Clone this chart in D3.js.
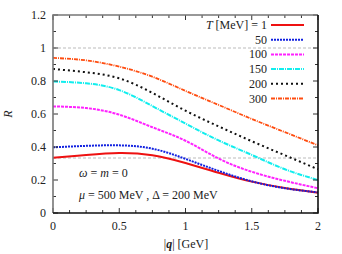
<!DOCTYPE html>
<html>
<head>
<meta charset="utf-8">
<script src="https://cdn.jsdelivr.net/npm/d3@7"></script>
<style>
body { margin: 0; background: #fff; }
svg text { font-family: 'Liberation Serif', 'Times New Roman', serif; fill: #222; }
</style>
</head>
<body>
<div id="chart"></div>
<script>
// data
var qValues = [0, 0.25, 0.5, 0.75, 1, 1.25, 1.5, 1.75, 2];
var temps = ["1", "50", "100", "150", "200", "300"];
var r1   = [0.335, 0.352, 0.364, 0.350, 0.303, 0.244, 0.190, 0.152, 0.123];
var r50  = [0.398, 0.407, 0.410, 0.390, 0.328, 0.255, 0.192, 0.150, 0.125];
var r100 = [0.646, 0.636, 0.596, 0.520, 0.438, 0.330, 0.250, 0.195, 0.150];
var r150 = [0.797, 0.786, 0.745, 0.648, 0.542, 0.440, 0.352, 0.265, 0.200];
var r200 = [0.873, 0.853, 0.816, 0.728, 0.620, 0.525, 0.435, 0.350, 0.265];
var r300 = [0.940, 0.925, 0.887, 0.826, 0.740, 0.655, 0.570, 0.490, 0.410];
var refLines = [1, 1 / 3];
var xTicks = [0, 0.5, 1, 1.5, 2];
var yTicks = [0, 0.2, 0.4, 0.6, 0.8, 1, 1.2];

var seriesValues = [r1, r50, r100, r150, r200, r300];
var styles = [
	{ color: "#ee1111", dash: null, width: 2 },
	{ color: "#1020e0", dash: "2,1", width: 2 },
	{ color: "#ff22ff", dash: "3,1", width: 2 },
	{ color: "#11eeee", dash: "5,1,1,1", width: 2 },
	{ color: "#111111", dash: "2,3", width: 2 },
	{ color: "#ff4d10", dash: "4,1,1,1", width: 1.8 }
];

var width = 342, height = 254;
var plot = { left: 53, right: 318, top: 15, bottom: 213 };

var svg = d3.select("#chart").append("svg")
	.attr("width", width)
	.attr("height", height)
	.attr("font-family", "Liberation Serif, serif");

var x = d3.scaleLinear().domain([0, 2]).range([plot.left, plot.right]);
var y = d3.scaleLinear().domain([0, 1.2]).range([plot.bottom, plot.top]);

// reference lines
svg.selectAll("line.ref")
	.data(refLines)
	.enter()
	.append("line")
	.attr("x1", plot.left).attr("x2", plot.right)
	.attr("y1", function(d) { return y(d); })
	.attr("y2", function(d) { return y(d); })
	.attr("stroke", "#bbb")
	.attr("stroke-width", 1)
	.attr("stroke-dasharray", "3,2");

// curves
var line = d3.line()
	.x(function(d) { return x(d[0]); })
	.y(function(d) { return y(d[1]); })
	.curve(d3.curveNatural);

svg.append("g")
	.selectAll("path")
	.data(seriesValues)
	.enter()
	.append("path")
	.attr("fill", "none")
	.attr("d", function(vals) {
		return line(vals.map(function(v, i) { return [qValues[i], v]; }));
	})
	.attr("stroke", function(d, i) { return styles[i].color; })
	.attr("stroke-width", function(d, i) { return styles[i].width; })
	.attr("stroke-dasharray", function(d, i) { return styles[i].dash; });

// ticks, gnuplot style (inside, mirrored)
function minorRange(a, b, step) {
	var out = [];
	for (var v = a; v <= b + 1e-9; v += step) out.push(+v.toFixed(4));
	return out;
}
var g = svg.append("g").attr("stroke", "#333").attr("stroke-width", 1);
minorRange(0, 2, 0.125).forEach(function(v) {
	var len = (Math.abs(v * 2 - Math.round(v * 2)) < 1e-6) ? 5 : 3;
	g.append("line").attr("x1", x(v)).attr("x2", x(v)).attr("y1", plot.bottom).attr("y2", plot.bottom - len);
	g.append("line").attr("x1", x(v)).attr("x2", x(v)).attr("y1", plot.top).attr("y2", plot.top + len);
});
minorRange(0, 1.2, 0.1).forEach(function(v) {
	var len = (Math.abs(v * 5 - Math.round(v * 5)) < 1e-6) ? 5 : 3;
	g.append("line").attr("y1", y(v)).attr("y2", y(v)).attr("x1", plot.left).attr("x2", plot.left + len);
	g.append("line").attr("y1", y(v)).attr("y2", y(v)).attr("x1", plot.right).attr("x2", plot.right - len);
});

// frame
svg.append("path")
	.attr("d", "M" + plot.left + "," + plot.bottom + "V" + plot.top + "H" + plot.right)
	.attr("fill", "none").attr("stroke", "#777").attr("stroke-width", 1.6);
svg.append("path")
	.attr("d", "M" + plot.left + "," + plot.bottom + "H" + plot.right + "V" + plot.top)
	.attr("fill", "none").attr("stroke", "#111").attr("stroke-width", 1.6);

// tick labels
svg.selectAll("text.xt")
	.data(xTicks)
	.enter()
	.append("text")
	.attr("x", function(d) { return x(d); })
	.attr("y", 230)
	.attr("text-anchor", "middle")
	.attr("font-size", 12)
	.text(function(d) { return d; });

svg.selectAll("text.yt")
	.data(yTicks)
	.enter()
	.append("text")
	.attr("x", 46)
	.attr("y", function(d) { return y(d) + 4; })
	.attr("text-anchor", "end")
	.attr("font-size", 12)
	.text(function(d) { return d; });

// axis titles
var xt = svg.append("text")
	.attr("x", 186).attr("y", 248)
	.attr("text-anchor", "middle")
	.attr("font-size", 12);
xt.append("tspan").text("|");
xt.append("tspan").attr("font-weight", "bold").attr("font-style", "italic").text("q");
xt.append("tspan").text("|  [GeV]");

svg.append("text")
	.attr("transform", "translate(12,114) rotate(-90)")
	.attr("text-anchor", "middle")
	.attr("font-size", 12)
	.attr("font-style", "italic")
	.text("R");

// legend
var legY0 = 25, legStep = 14.7;
var leg = svg.append("g");
temps.forEach(function(t, i) {
	var ty = legY0 + i * legStep;
	var txt = leg.append("text")
		.attr("x", 267).attr("y", ty + 4)
		.attr("text-anchor", "end")
		.attr("font-size", 12);
	if (i === 0) {
		txt.append("tspan").attr("font-style", "italic").text("T");
		txt.append("tspan").text(" [MeV] = " + t);
	} else {
		txt.text(t);
	}
	leg.append("line")
		.attr("x1", 271).attr("x2", 304)
		.attr("y1", ty).attr("y2", ty)
		.attr("stroke", styles[i].color)
		.attr("stroke-width", styles[i].width)
		.attr("stroke-dasharray", styles[i].dash);
});

// annotations
var a1 = svg.append("text").attr("x", 79).attr("y", 177).attr("font-size", 12);
a1.append("tspan").attr("font-style", "italic").text("ω");
a1.append("tspan").text(" = ");
a1.append("tspan").attr("font-style", "italic").text("m");
a1.append("tspan").text(" = 0");

var a2 = svg.append("text").attr("x", 79).attr("y", 199).attr("font-size", 12);
a2.append("tspan").attr("font-style", "italic").text("μ");
a2.append("tspan").text(" = 500 MeV , Δ = 200 MeV");
</script>
</body>
</html>
